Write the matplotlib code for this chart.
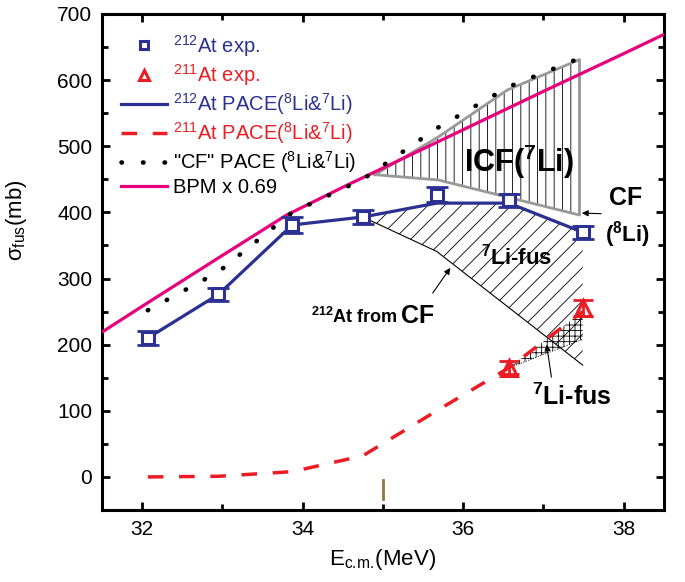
import matplotlib
matplotlib.use("Agg")
import matplotlib.pyplot as plt

plt.rcParams['font.family'] = ['Liberation Sans', 'DejaVu Sans']
plt.rcParams['mathtext.fontset'] = 'custom'
plt.rcParams['mathtext.rm'] = 'Liberation Sans'
plt.rcParams['mathtext.it'] = 'Liberation Sans:italic'
plt.rcParams['mathtext.bf'] = 'Liberation Sans:bold'
plt.rcParams['hatch.linewidth'] = 0.6

# beam energies (MeV)
e_cm = [32.07, 32.95, 33.87, 34.75, 35.67, 36.57, 37.49]
at212_exp = [210, 276, 381, 393, 427, 418, 370]
at212_err = [10, 10, 12, 10, 12, 10, 10]
at212_pace = [210, 276, 381, 393, 414, 414, 370]
at211_e = [36.57, 37.49]
at211_exp = [165, 256]
at211_err = [10, 12]
at211_pace = [0, 1, 8, 32, 100, 165, 250]
cf_pace = [252, 310, 400, 450, 527, 590, 635]
bpm_e = [31.5, 32, 33, 33.8, 34.5, 35, 36, 37, 38, 38.5]
bpm = [219, 258, 335, 396, 438, 467, 525, 583, 640, 669]

# boundaries of the shaded regions
icf_top_e = [34.9, 35.69, 36.55, 37.45]
icf_top = [457, 514, 585, 631]
icf_bot_e = [34.9, 35.69, 37.45]
icf_bot = [457, 449, 396]
cf212_e = [34.75, 35.67, 37.49]
cf212 = [393, 341, 169]
li7_211_e = [36.57, 37.49]
li7_211 = [165, 208]

blue = '#2B3092'
red = '#ED1C24'
pink = '#E6007E'

fig = plt.figure(figsize=(6.85, 5.82), dpi=100)
ax = fig.add_axes([0.149, 0.1237, 0.820, 0.8523])

# ICF(7Li) region
poly_x = icf_top_e + icf_bot_e[::-1]
poly_y = icf_top + icf_bot[::-1]
ax.fill(poly_x, poly_y, facecolor='none', edgecolor='black', lw=0, hatch='||', zorder=1)
ax.plot(poly_x + [poly_x[0]], poly_y + [poly_y[0]], color='#999999', lw=2, zorder=2)

# 7Li-fus region for 212At
ax.fill(e_cm[3:] + cf212_e[::-1], at212_pace[3:] + cf212[::-1],
        facecolor='none', edgecolor='black', lw=0, hatch='//', zorder=1)
ax.plot(cf212_e, cf212, color='black', lw=0.8, zorder=2)

# 7Li-fus region for 211At
ax.fill(e_cm[5:] + li7_211_e[::-1], at211_pace[5:] + li7_211[::-1],
        facecolor='none', edgecolor='black', lw=0, hatch='+++', zorder=1)
ax.plot(li7_211_e, li7_211, color='black', lw=0.7, ls=':', zorder=2)

# curves
ax.plot(bpm_e, bpm, color=pink, lw=2.3, zorder=3, label='BPM x 0.69')
ax.plot(e_cm, cf_pace, color='black', lw=3.3, ls=(0, (0.1, 4.6)),
        dash_capstyle='round', zorder=4, label='"CF" PACE ($^8$Li&$^7$Li)')
ax.plot(e_cm, at212_pace, color=blue, lw=2.3, zorder=5,
        label='$^{212}$At PACE($^8$Li&$^7$Li)')
ax.plot(e_cm, at211_pace, color=red, lw=2.5, ls=(0, (4.5, 4.5)), zorder=5,
        label='$^{211}$At PACE($^8$Li&$^7$Li)')

# experimental points
ax.errorbar(e_cm, at212_exp, yerr=at212_err, fmt='none', ecolor=blue,
            elinewidth=2, capsize=8, capthick=2, zorder=6)
ax.plot(e_cm, at212_exp, ls='none', marker='s', ms=9, mfc='white', mec=blue,
        mew=2.2, zorder=7, label='$^{212}$At exp.')
ax.errorbar(at211_e, at211_exp, yerr=at211_err, fmt='none', ecolor=red,
            elinewidth=2, capsize=7, capthick=2, zorder=6)
ax.plot(at211_e, at211_exp, ls='none', marker='^', ms=11, mfc='none', mec=red,
        mew=2.2, zorder=7, label='$^{211}$At exp.')

# small marker at 35 MeV
ax.plot([35.0, 35.0], [-5, -33], color='#8C7A3A', lw=2, zorder=2)

# annotations
ax.text(36.69, 477, r'ICF($^{\mathbf{7}}$Li)', fontsize=22, fontweight='bold',
        ha='center', va='center', zorder=8)
ax.text(38.03, 421, 'CF', fontsize=18, fontweight='bold', ha='center', va='center')
ax.text(38.05, 366, r'($^{\mathbf{8}}$Li)', fontsize=16, fontweight='bold',
        ha='center', va='center')
ax.text(36.67, 333, r'$^{\mathbf{7}}$Li-fus', fontsize=16, fontweight='bold',
        ha='center', va='center', zorder=8)
ax.text(35.18, 233, r'$^{\mathbf{212}}$At from', fontsize=13, fontweight='bold',
        ha='right', va='baseline')
ax.text(35.22, 233, 'CF', fontsize=18, fontweight='bold', ha='left', va='baseline')
ax.text(37.35, 121, r'$^{\mathbf{7}}$Li-fus', fontsize=18, fontweight='bold',
        ha='center', va='center')

arrow = dict(arrowstyle='-|>', color='black', lw=0.8, mutation_scale=9,
             shrinkA=0, shrinkB=0)
ax.annotate('', xy=(35.84, 316), xytext=(35.62, 278), arrowprops=arrow)
ax.annotate('', xy=(37.04, 200), xytext=(37.1, 151), arrowprops=arrow)
ax.annotate('', xy=(37.48, 399), xytext=(37.72, 398), arrowprops=arrow)

ax.set_xlim(31.5, 38.5)
ax.set_ylim(-50, 700)
ax.set_xticks([32, 34, 36, 38])
ax.set_xticks([33, 35, 37], minor=True)
ax.set_yticks(range(0, 701, 100))
ax.set_yticks(range(50, 700, 100), minor=True)
ax.tick_params(which='both', direction='in', top=True, right=True, width=2,
               labelsize=15, pad=7)
ax.tick_params(which='major', length=6)
ax.tick_params(which='minor', length=4)
for sp in ax.spines.values():
    sp.set_linewidth(2.2)

ax.set_xlabel(r'E$_{\mathrm{c.\!m.\!}}$(MeV)', fontsize=16, labelpad=6)
ax.set_ylabel(r'σ$_{\mathrm{fus}}$(mb)', fontsize=16)
ax.yaxis.set_label_coords(-0.13, 0.585)

handles, labels = ax.get_legend_handles_labels()
order = [labels.index(l) for l in ['$^{212}$At exp.', '$^{211}$At exp.',
                                   '$^{212}$At PACE($^8$Li&$^7$Li)',
                                   '$^{211}$At PACE($^8$Li&$^7$Li)',
                                   '"CF" PACE ($^8$Li&$^7$Li)', 'BPM x 0.69']]
leg = ax.legend([handles[i] for i in order], [labels[i] for i in order],
                loc='upper left', bbox_to_anchor=(0.033, 0.962), frameon=False,
                fontsize=14.5, handlelength=2.3, handletextpad=0.3,
                labelspacing=0.16, borderpad=0, borderaxespad=0, markerscale=0.7)
for txt, col in zip(leg.get_texts(), [blue, red, blue, red, 'black', 'black']):
    txt.set_color(col)

fig.savefig('out.png', dpi=100)
